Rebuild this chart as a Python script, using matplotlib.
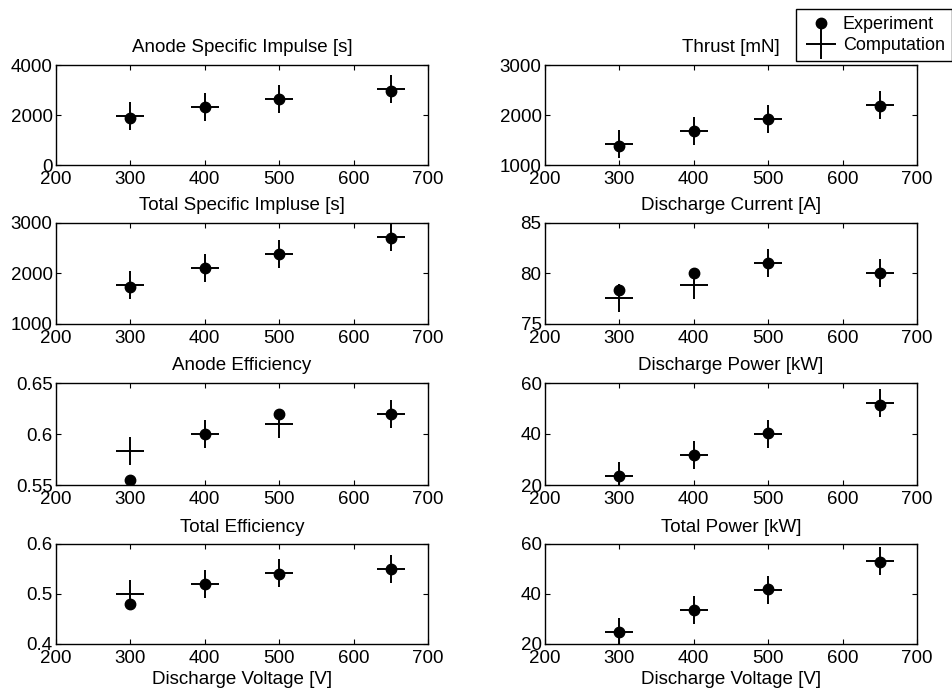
import matplotlib
matplotlib.use("Agg")
import matplotlib.pyplot as plt
from matplotlib.lines import Line2D
from matplotlib.ticker import FormatStrFormatter

plt.rcParams['font.family'] = ['Liberation Sans', 'DejaVu Sans']
plt.rcParams['font.size'] = 13.5

# Discharge voltage [V]
voltage = [300, 400, 500, 650]

# experiment / computation pairs
anode_isp_exp = [1900, 2310, 2640, 2970]
anode_isp_comp = [1950, 2330, 2650, 3030]
thrust_exp = [1390, 1680, 1920, 2180]
thrust_comp = [1420, 1680, 1930, 2200]
total_isp_exp = [1730, 2100, 2390, 2700]
total_isp_comp = [1770, 2100, 2390, 2720]
current_exp = [78.4, 80.0, 81.0, 80.0]
current_comp = [77.6, 78.9, 81.0, 80.0]
anode_eff_exp = [0.555, 0.60, 0.62, 0.62]
anode_eff_comp = [0.583, 0.60, 0.61, 0.62]
power_exp = [23.5, 31.9, 40.2, 51.5]
power_comp = [23.5, 31.9, 40.1, 52.3]
total_eff_exp = [0.48, 0.52, 0.541, 0.55]
total_eff_comp = [0.50, 0.521, 0.542, 0.55]
total_power_exp = [24.9, 33.6, 42.1, 53.0]
total_power_comp = [24.9, 33.7, 41.7, 53.4]

titles = ["Anode Specific Impulse [s]", "Thrust [mN]",
          "Total Specific Impluse [s]", "Discharge Current [A]",
          "Anode Efficiency", "Discharge Power [kW]",
          "Total Efficiency", "Total Power [kW]"]
exp_series = [anode_isp_exp, thrust_exp, total_isp_exp, current_exp,
              anode_eff_exp, power_exp, total_eff_exp, total_power_exp]
comp_series = [anode_isp_comp, thrust_comp, total_isp_comp, current_comp,
               anode_eff_comp, power_comp, total_eff_comp, total_power_comp]
y_ticks = [[0, 2000, 4000], [1000, 2000, 3000],
           [1000, 2000, 3000], [75, 80, 85],
           [0.55, 0.6, 0.65], [20, 40, 60],
           [0.4, 0.5, 0.6], [20, 40, 60]]
x_ticks = [200, 300, 400, 500, 600, 700]
x_label = "Discharge Voltage [V]"

fig = plt.figure(figsize=(9.52, 6.88), dpi=100)

# axes boxes in pixels: (top, bottom) per row, left edge per column
W, H = 952.0, 688.0
col_left = [56, 545]
ax_w = 372
rows = [(65, 165), (223, 324), (383, 485), (544, 644)]

for i in range(8):
    r, c = divmod(i, 2)
    top, bot = rows[r]
    ax = fig.add_axes([col_left[c] / W, 1 - bot / H, ax_w / W, (bot - top) / H])
    ax.plot(voltage, exp_series[i], 'o', color='k', markersize=7.5)
    ax.plot(voltage, comp_series[i], '+', color='k', markersize=20,
            markeredgewidth=1.4)
    ax.set_xlim(200, 700)
    ax.set_ylim(y_ticks[i][0], y_ticks[i][-1])
    ax.set_xticks(x_ticks)
    ax.set_yticks(y_ticks[i])
    ax.yaxis.set_major_formatter(FormatStrFormatter('%g'))
    ax.tick_params(direction='in', top=True, right=True, length=3.5,
                   width=0.8)
    ax.tick_params(axis='x', pad=4.5)
    ax.tick_params(axis='y', pad=2.5)
    for s in ax.spines.values():
        s.set_linewidth(1.0)
    ax.set_title(titles[i], fontsize=13.5, pad=9)
    if r == 3:
        ax.set_xlabel(x_label, labelpad=3)

handles = [Line2D([], [], ls='none', marker='o', color='k', markersize=7.5),
           Line2D([], [], ls='none', marker='+', color='k', markersize=22,
                  markeredgewidth=1.4)]
leg = fig.legend(handles, ["Experiment", "Computation"], loc='upper left',
                 bbox_to_anchor=(796 / W, 1 - 9 / H), fontsize=13,
                 frameon=True, fancybox=False, framealpha=1, edgecolor='k',
                 borderpad=0.4, handlelength=2.0, handletextpad=0.2,
                 labelspacing=0.2, borderaxespad=0)
leg.get_frame().set_linewidth(1.0)

fig.savefig("out.png", dpi=100)
